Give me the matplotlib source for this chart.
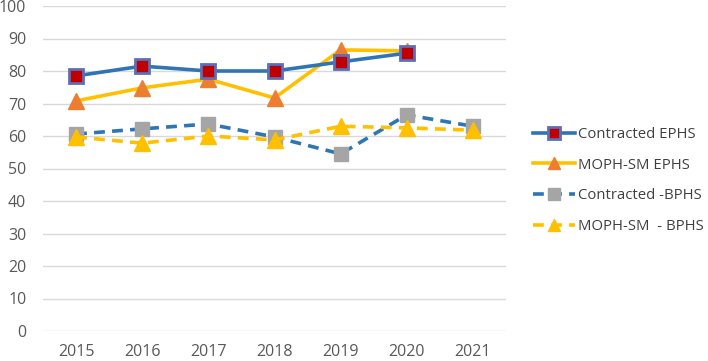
import matplotlib
matplotlib.use('Agg')
import matplotlib.pyplot as plt

years = ['2015', '2016', '2017', '2018', '2019', '2020', '2021']
contracted_ephs = [78.5, 81.5, 80.0, 80.0, 82.8, 85.5, None]
moph_ephs = [70.8, 74.8, 77.5, 71.7, 86.5, 86.2, None]
contracted_bphs = [60.6, 62.2, 63.7, 59.7, 54.5, 66.5, 63.0]
moph_bphs = [59.7, 57.8, 60.0, 58.8, 63.0, 62.5, 61.8]

plt.rcParams['font.family'] = ['Open Sans', 'DejaVu Sans']

fig = plt.figure(figsize=(7.08, 3.61), dpi=100)
ax = fig.add_axes([43 / 708, 30 / 361, 463 / 708, 325 / 361])

x = list(range(len(years)))


def clean(vals):
    return [float('nan') if v is None else v for v in vals]


ax.plot(x, clean(contracted_ephs), color='#2E75B6', lw=2.6, marker='s', ms=10,
        mfc='#C00000', mec='#5B6FB5', mew=2, label='Contracted EPHS', zorder=4)
ax.plot(x, clean(moph_ephs), color='#FFC000', lw=2.6, marker='^', ms=11,
        mfc='#ED7D31', mec='#ED7D31', label='MOPH-SM EPHS', zorder=3)
ax.plot(x, clean(contracted_bphs), color='#2E75B6', lw=2.6, ls=(0, (3, 2)), marker='s', ms=10,
        mfc='#A5A5A5', mec='#A5A5A5', label='Contracted -BPHS', zorder=2)
ax.plot(x, clean(moph_bphs), color='#FFC000', lw=2.6, ls=(0, (3, 2)), marker='^', ms=11,
        mfc='#FFC000', mec='#FFC000', label='MOPH-SM  - BPHS', zorder=2)

ax.set_xlim(-0.5, len(years) - 0.5)
ax.set_ylim(0, 100)
ax.set_yticks(range(0, 101, 10))
ax.set_xticks(x)
ax.set_xticklabels(years)
ax.grid(axis='y', color='#D9D9D9', lw=1)
ax.set_axisbelow(True)
for s in ax.spines.values():
    s.set_visible(False)
ax.tick_params(length=0, labelsize=11.5, colors='#595959', pad=12)
ax.tick_params(axis='x', pad=9)

ax.legend(loc='center left', bbox_to_anchor=(520 / 708, 0.5), bbox_transform=fig.transFigure,
          frameon=False, fontsize=10.7, handlelength=2.8, labelspacing=1.05,
          handletextpad=0.2, labelcolor='#404040', markerscale=0.8)

fig.savefig('out.png', dpi=100)
